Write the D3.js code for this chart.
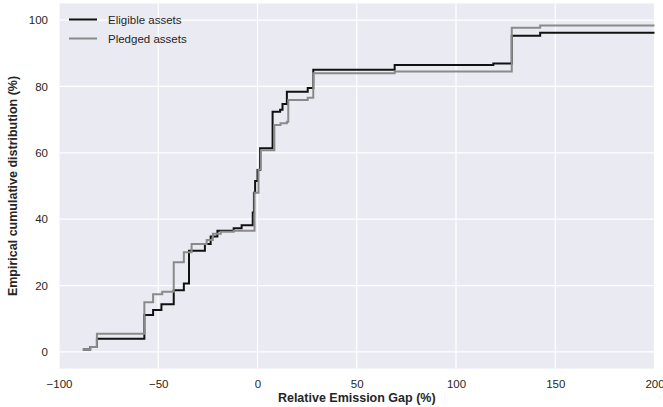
<!DOCTYPE html>
<html>
<head>
<meta charset="utf-8">
<script src="https://cdn.jsdelivr.net/npm/d3@7"></script>
<style>
  body { margin: 0; background: #fff; }
  svg { display: block; font-family: "Liberation Sans", Arial, sans-serif; }
</style>
</head>
<body>
<svg id="chart" width="663" height="407"></svg>
<script>
// Step points: [relative emission gap (%), cumulative share (%)]
const eligibleX = [-88.0, -84.3, -80.9, -57.0, -52.6, -48.4, -42.2, -37.1, -34.5, -26.5, -23.6, -20.2, -12.0, -8.0, -2.4, -1.8, -1.2, 0.0, 1.3, 7.6, 11.4, 12.6, 14.8, 25.3, 28.1, 69.1, 118.8, 128.1, 142.4, 230];
const eligibleY = [0.7, 1.5, 4.0, 11.1, 12.6, 14.4, 18.6, 20.6, 30.5, 32.5, 34.8, 36.5, 37.3, 38.2, 42.0, 48.0, 51.5, 54.8, 61.4, 72.4, 73.0, 74.7, 78.4, 79.5, 85.0, 86.5, 86.9, 95.3, 96.2, 96.2];
const pledgedX = [-88.0, -84.3, -80.9, -57.0, -52.6, -48.0, -42.2, -37.1, -33.2, -25.6, -22.5, -18.5, -12.0, -1.5, 0.5, 1.7, 8.5, 11.6, 14.8, 15.5, 25.3, 28.1, 69.1, 128.1, 142.4, 230];
const pledgedY = [0.7, 1.5, 5.5, 15.0, 17.4, 18.1, 27.0, 30.0, 32.5, 33.7, 35.6, 36.2, 36.5, 48.0, 55.0, 60.8, 68.4, 68.9, 69.4, 75.9, 76.6, 84.0, 84.5, 97.7, 98.4, 98.4];
const seriesNames = ["Eligible assets", "Pledged assets"];
const seriesColors = ["#111111", "#8a8a8a"];
const xTicks = [-100, -50, 0, 50, 100, 150, 200];
const yTicks = [0, 20, 40, 60, 80, 100];

const svg = d3.select("#chart");
const m = { left: 59, right: 8.5, top: 3.5, bottom: 38.5 };
const W = 663, H = 407;
const x = d3.scaleLinear().domain([-100, 200]).range([m.left, W - m.right]);
const y = d3.scaleLinear().domain([-5, 105]).range([H - m.bottom, m.top]);

svg.append("rect").attr("x", m.left).attr("y", m.top)
  .attr("width", W - m.right - m.left).attr("height", H - m.bottom - m.top)
  .attr("fill", "#EAEAF2");

svg.append("defs").append("clipPath").attr("id", "clip")
  .append("rect").attr("x", m.left).attr("y", m.top)
  .attr("width", W - m.right - m.left).attr("height", H - m.bottom - m.top);

// grid
const xAxis = svg.append("g").attr("transform", `translate(0,${H - m.bottom})`)
  .call(d3.axisBottom(x).tickValues(xTicks).tickSize(0).tickPadding(11)
    .tickFormat(d => d < 0 ? "\u2212" + Math.abs(d) : d));
xAxis.select(".domain").remove();
xAxis.selectAll("text").attr("fill", "#262626").attr("font-size", 11.5);
svg.append("g").selectAll("line").data(xTicks).join("line")
  .attr("x1", d => x(d)).attr("x2", d => x(d))
  .attr("y1", m.top).attr("y2", H - m.bottom)
  .attr("stroke", "#fff").attr("stroke-width", 1.2);

const yAxis = svg.append("g").attr("transform", `translate(${m.left},0)`)
  .call(d3.axisLeft(y).tickValues(yTicks).tickSize(0).tickPadding(11));
yAxis.select(".domain").remove();
yAxis.selectAll("text").attr("fill", "#262626").attr("font-size", 11.5);
svg.append("g").selectAll("line").data(yTicks).join("line")
  .attr("x1", m.left).attr("x2", W - m.right)
  .attr("y1", d => y(d)).attr("y2", d => y(d))
  .attr("stroke", "#fff").attr("stroke-width", 1.2);

// lines
const line = d3.line().curve(d3.curveStepAfter).x(d => x(d[0])).y(d => y(d[1]));
const series = [
  d3.zip(eligibleX, eligibleY),
  d3.zip(pledgedX, pledgedY)
];
const lg = svg.append("g").attr("clip-path", "url(#clip)");
series.forEach((s, i) => {
  lg.append("path").datum(s).attr("d", line)
    .attr("fill", "none").attr("stroke", seriesColors[i])
    .attr("stroke-width", 2).attr("stroke-linejoin", "miter");
});

// legend
const leg = svg.append("g");
seriesNames.forEach((n, i) => {
  const yy = 19.5 + i * 19;
  leg.append("line").attr("x1", 69).attr("x2", 97).attr("y1", yy).attr("y2", yy)
    .attr("stroke", seriesColors[i]).attr("stroke-width", 2);
  leg.append("text").attr("x", 108).attr("y", yy + 4).text(n)
    .attr("font-size", 11.5).attr("fill", "#262626");
});

// axis labels
svg.append("text").attr("x", (m.left + W - m.right) / 2).attr("y", 402)
  .attr("text-anchor", "middle").attr("font-size", 12.5).attr("font-weight", "bold")
  .attr("fill", "#262626").text("Relative Emission Gap (%)");
svg.append("text")
  .attr("transform", `translate(17,${(m.top + H - m.bottom) / 2}) rotate(-90)`)
  .attr("text-anchor", "middle").attr("font-size", 12.5).attr("font-weight", "bold")
  .attr("fill", "#262626").text("Empirical cumulative distribution (%)");
</script>
</body>
</html>
